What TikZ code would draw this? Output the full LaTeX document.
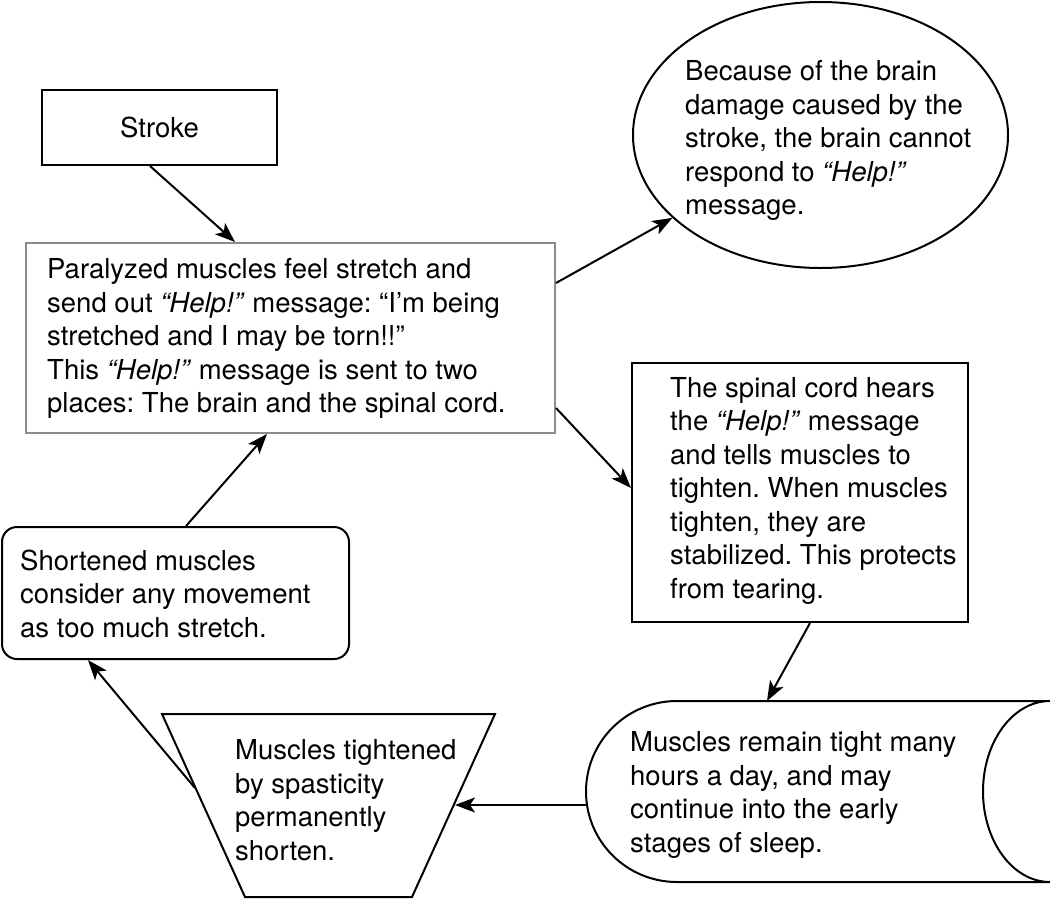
\documentclass[tikz,border=0pt]{standalone}
\usepackage{fontspec}
\setmainfont{TeX Gyre Heros}
\usetikzlibrary{arrows.meta,shapes.geometric}
\definecolor{boxgray}{RGB}{140,140,140}
\frenchspacing
\begin{document}
\begin{tikzpicture}[x=1pt,y=-1pt,
  every node/.style={font=\fontsize{27.5}{33.5}\selectfont},
  box/.style={draw, line width=2pt, inner sep=0pt},
  txt/.style={align=left, inner sep=0pt, anchor=west},
  arr/.style={line width=2pt, -{Stealth[length=20pt,width=15pt,inset=5pt]}},
  shp/.style={line width=2pt}
]
\useasboundingbox (0,0) rectangle (1050,900);

% Stroke
\node[box, minimum width=235pt, minimum height=75pt] (stroke) at (159.5,127.5) {Stroke};

% main box
\node[box, draw=boxgray, minimum width=529pt, minimum height=190pt] (main) at (290.5,338) {};
\node[txt] (mainText) at (47,338.5) {Paralyzed muscles feel stretch and\\send out \textit{“Help!”} message: “I’m being\\stretched and I may be torn!!”\\This \textit{“Help!”} message is sent to two\\places: The brain and the spinal cord.};

% brain ellipse
\node[box, ellipse, minimum width=375pt, minimum height=266pt] (brain) at (820.5,135) {};
\node[txt] (brainText) at (685,140.5) {Because of the brain\\damage caused by the\\stroke, the brain cannot\\respond to \textit{“Help!”}\\message.};

% spinal box
\node[box, minimum width=336pt, minimum height=259pt] (spinal) at (800,492.5) {};
\node[txt] (spinalText) at (670,490.5) {The spinal cord hears\\the \textit{“Help!”} message\\and tells muscles to\\tighten. When muscles\\tighten, they are\\stabilized. This protects\\from tearing.};

% shortened box
\node[box, rounded corners=15pt, minimum width=347pt, minimum height=132pt] (short) at (175.5,593) {};
\node[txt] (shortText) at (20,593.5) {Shortened muscles\\consider any movement\\as too much stretch.};

% remain shape
\draw[shp] (1050,701) -- (677,701)
  arc[start angle=270, end angle=90, x radius=91, y radius=90.5]
  -- (1050,882)
  arc[start angle=90, end angle=270, x radius=67, y radius=90.5];
\node[txt] (remainText) at (630,795) {Muscles remain tight many\\hours a day, and may\\continue into the early\\stages of sleep.};
\coordinate (remainTop) at (767,701);
\coordinate (remainLeft) at (586.5,805);

% trapezoid
\draw[shp] (162,714) -- (495,714) -- (412,897) -- (245,897) -- cycle;
\node[txt] (trapText) at (235,800) {Muscles tightened\\by spasticity\\permanently\\shorten.};
\coordinate (trapRight) at (455,805);
\coordinate (trapLeft) at (195,788);

% connectors
\draw[arr] ([xshift=-9.5pt]stroke.south) -- ([xshift=-55.5pt]main.north);
\draw[arr] ([yshift=55pt]main.east) -- (brain);
\draw[arr] ([yshift=-70pt]main.east) -- ([yshift=4.5pt]spinal.west);
\draw[arr] ([xshift=10pt]spinal.south) -- (remainTop);
\draw[arr] (remainLeft) -- (trapRight);
\draw[arr] (trapLeft) -- ([xshift=-87.5pt]short.south);
\draw[arr] ([xshift=10.5pt]short.north) -- ([xshift=-23.5pt]main.south);
\end{tikzpicture}
\end{document}
